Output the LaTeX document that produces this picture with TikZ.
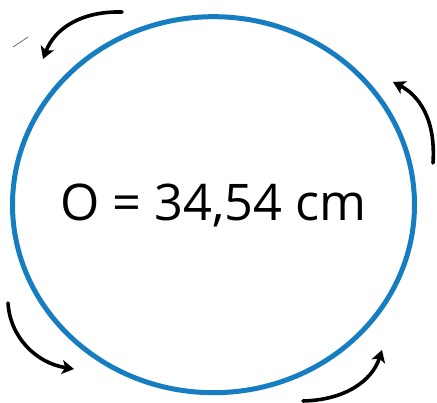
\documentclass[tikz,border=0pt]{standalone}
\usepackage{fontspec}
\setmainfont{Open Sans}
\usetikzlibrary{arrows.meta, positioning}
\usepackage{xcolor}
\definecolor{rimblue}{RGB}{22,126,192}
\tikzstyle{rim}       = [draw=rimblue, line width=5pt]
\tikzstyle{turn}      = [line width=3.6pt, line cap=round, -{Stealth[length=12pt, width=14pt, inset=3pt]}]
\tikzstyle{label}     = [inner sep=0pt, font=\fontsize{50.5}{56}\selectfont]

\begin{document}
\begin{tikzpicture}[
        x=1pt,
        y=1pt
    ]
        \useasboundingbox (0,0) rectangle (437,403);

        % Kreis
        \draw[rim] (213.5,198.3) ellipse [x radius=201, y radius=188];
        \node[label] (omtrek) at (213.5,198) {O = 34,54 cm};

        % Start- und Endpunkte der Pfeile
        \coordinate (a1) at (122,391);
        \coordinate (b1) at (43,344);
        \coordinate (a2) at (433,240);
        \coordinate (b2) at (393,321);
        \coordinate (a3) at (8,100);
        \coordinate (b3) at (74,34);
        \coordinate (a4) at (303,2);
        \coordinate (b4) at (382,53);

        % Pfeile rundherum
        \draw[turn] (a1) .. controls (82,392) and (55,375) .. (b1);
        \draw[turn] (a2) .. controls (436,285) and (418,308) .. (b2);
        \draw[turn] (a3) .. controls (10,66) and (36,40) .. (b3);
        \draw[turn] (a4) .. controls (345,3) and (372,22) .. (b4);

        % kleiner Strich links oben
        \draw[line width=0.6pt, black!70] (13,356) -- (28,366);

    \end{tikzpicture}
\end{document}
